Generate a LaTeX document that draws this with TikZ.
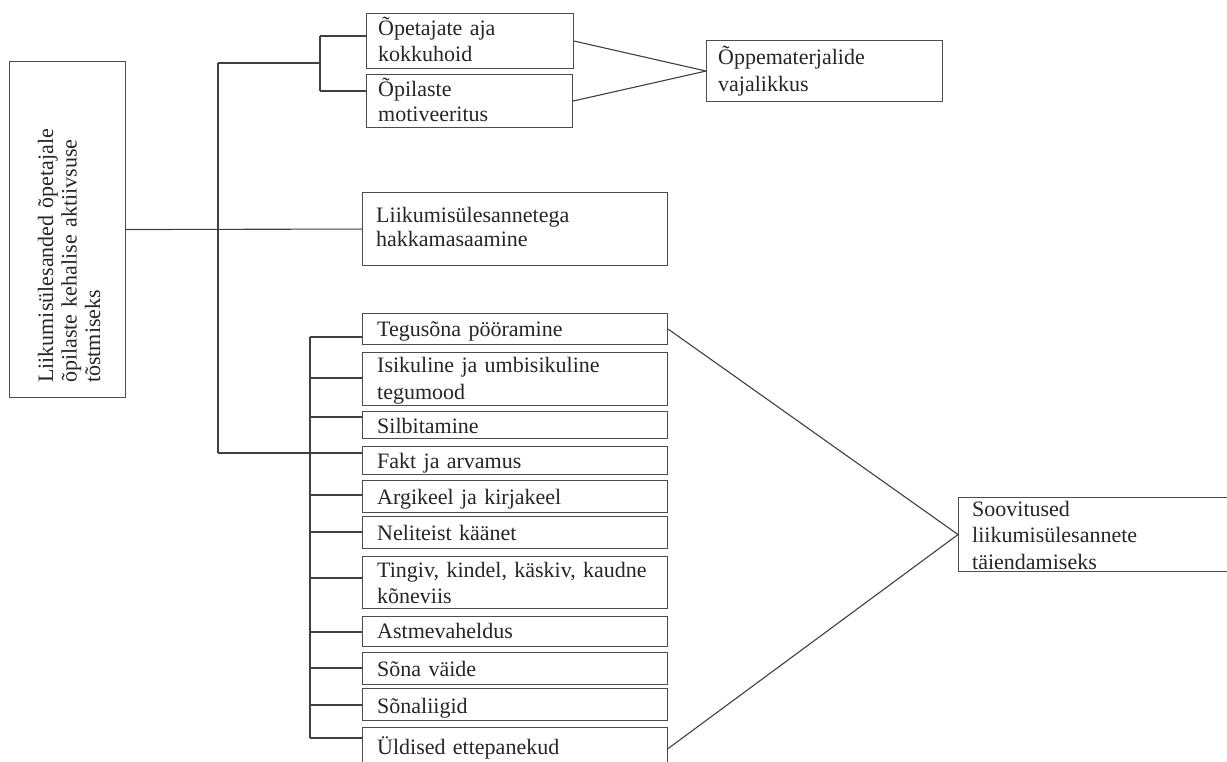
\documentclass[tikz,border=0pt]{standalone}
\usepackage{fontspec}
\setmainfont{Liberation Serif}
\begin{document}
\begin{tikzpicture}[x=1pt,y=-1pt,
  box/.style={draw=black!70, line width=1.1pt, anchor=north west, inner sep=0pt},
  txt/.style={font=\fontsize{22}{26.5}\selectfont, text=black!85, inner sep=0pt, align=left, anchor=base west},
  conn/.style={draw=black!75, line width=1.1pt}]
\useasboundingbox (0,0) rectangle (1227,762);
\fill[white] (0,0) rectangle (1227,762);
\clip (0,0) rectangle (1227,762);

% boxes
\node[box, minimum width=116, minimum height=336] (lbox) at (9,61) {};
\node[box, minimum width=207, minimum height=55] (b1) at (366,13) {};
\node[box, minimum width=206, minimum height=53] (b2) at (366,74) {};
\node[box, minimum width=236, minimum height=61] (opp) at (706,40) {};
\node[box, minimum width=305, minimum height=73] (mid) at (362,192) {};
\node[box, minimum width=305, minimum height=31] (teg) at (362,313) {};
\node[box, minimum width=305, minimum height=53] (isik) at (362,352) {};
\node[box, minimum width=305, minimum height=27] (silb) at (362,411) {};
\node[box, minimum width=305, minimum height=28] (fakt) at (362,446) {};
\node[box, minimum width=305, minimum height=32] (argi) at (362,480) {};
\node[box, minimum width=305, minimum height=32] (neli) at (362,516) {};
\node[box, minimum width=305, minimum height=52] (ting) at (362,556) {};
\node[box, minimum width=305, minimum height=30] (astme) at (362,616) {};
\node[box, minimum width=305, minimum height=32] (sona) at (362,652) {};
\node[box, minimum width=305, minimum height=32] (liigid) at (362,688) {};
\node[box, minimum width=305, minimum height=42] (yld) at (362,727) {};
\node[box, minimum width=282, minimum height=74] (soov) at (958,497) {};

% texts
\node[txt, text width=310, rotate=90, font=\fontsize{22}{23.5}\selectfont] (lboxt) at (53,383)
  {Liikumisülesanded õpetajale\\õpilaste kehalise aktiivsuse\\tõstmiseks};
\node[txt, text width=190, font=\fontsize{22}{26}\selectfont] (b1t) at (378,36) {Õpetajate aja\\kokkuhoid};
\node[txt, text width=190, font=\fontsize{22}{25}\selectfont] (b2t) at (378,97) {Õpilaste\\motiveeritus};
\node[txt, text width=220, font=\fontsize{22}{27}\selectfont] (oppt) at (718,65) {Õppematerjalide\\vajalikkus};
\node[txt, text width=285, font=\fontsize{22}{24}\selectfont] (midt) at (376,223) {Liikumisülesannetega\\hakkamasaamine};
\node[txt, text width=285] (tegt) at (377,337) {Tegusõna pööramine};
\node[txt, text width=285, font=\fontsize{22}{27}\selectfont] (isikt) at (377,372) {Isikuline ja umbisikuline\\tegumood};
\node[txt, text width=285] (silbt) at (377,433) {Silbitamine};
\node[txt, text width=285] (faktt) at (377,468) {Fakt ja arvamus};
\node[txt, text width=285] (argit) at (377,504) {Argikeel ja kirjakeel};
\node[txt, text width=285] (nelit) at (377,540) {Neliteist käänet};
\node[txt, text width=285, font=\fontsize{22}{26}\selectfont] (tingt) at (377,577) {Tingiv, kindel, käskiv, kaudne\\kõneviis};
\node[txt, text width=285] (astmet) at (377,638) {Astmevaheldus};
\node[txt, text width=285] (sonat) at (377,676) {Sõna väide};
\node[txt, text width=285] (liigidt) at (377,713) {Sõnaliigid};
\node[txt, text width=285] (yldt) at (377,754) {Üldised ettepanekud};
\node[txt, text width=240] (soovt) at (972,516) {Soovitused\\liikumisülesannete\\täiendamiseks};

% junction coordinates
\coordinate (ta) at (218,63);
\coordinate (tb) at (218,453);
\coordinate (ba) at (320,36);
\coordinate (bb) at (320,91);
\coordinate (la) at (310,337);
\coordinate (lb) at (310,738);

% connectors
\draw[conn] (lbox.east) -- (mid.west);
\draw[conn] (ta) -- (tb);
\draw[conn] (ta) -- (ta -| ba);
\draw[conn] (ba) -- (bb);
\draw[conn] (ba) -- (b1.west |- ba);
\draw[conn] (bb) -- (b2.west |- bb);
\draw[conn] (tb) -- (fakt.west |- tb);
\draw[conn] (la) -- (lb);
\foreach \n/\yy in {teg/337, isik/378, silb/417, argi/495, neli/532, ting/578, astme/632, sona/668, liigid/705, yld/738}
  \draw[conn] (310,\yy) -- (\n.west |- 0,\yy);
\draw[conn] (b1.east) -- (opp.west);
\draw[conn] (b2.east) -- (opp.west);
\draw[conn] (teg.east) -- (soov.west);
\draw[conn] (yld.east) -- (soov.west);
\end{tikzpicture}
\end{document}
